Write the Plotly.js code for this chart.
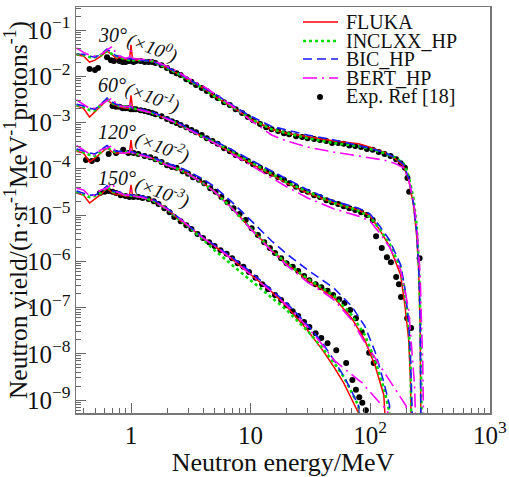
<!DOCTYPE html>
<html><head><meta charset="utf-8">
<script src="https://cdn.plot.ly/plotly-3.0.1.min.js"></script>
<style>html,body{margin:0;padding:0;background:#fff}#chart{width:509px;height:477px}</style>
</head><body><div id="chart"></div>
<script>
// ---------- 30 deg (x10^0) ----------
const E30 = [0.35,0.4,0.45,0.5,0.56,0.63,0.7,0.75,0.8,0.9,0.97,1.0,1.03,1.2,1.5,2,2.5,3,4,5,7,10,15,20,30,50,80,100,130,160,190,210,230,245,255,262,268,275,285];
const fluka30 = [2.9e-2,2.75e-2,2.04e-2,2.24e-2,2.75e-2,3.5e-2,2.9e-2,2.45e-2,2.6e-2,2.35e-2,2.24e-2,4.8e-2,2.24e-2,2.24e-2,2.14e-2,1.51e-2,1.12e-2,8.3e-3,5.6e-3,3.7e-3,2.2e-3,1.2e-3,7.2e-4,5.9e-4,4.9e-4,4.0e-4,3.5e-4,2.95e-4,2.3e-4,1.7e-4,1.15e-4,5.8e-5,1.66e-5,3.5e-6,5.9e-7,3.2e-8,1e-11,1e-11,1e-11];
const incl30 = [3.0e-2,2.9e-2,2.6e-2,2.6e-2,2.9e-2,3.5e-2,3.0e-2,2.75e-2,2.6e-2,2.35e-2,2.24e-2,2.35e-2,2.24e-2,2.24e-2,2.14e-2,1.51e-2,1.12e-2,8.3e-3,5.6e-3,3.7e-3,2.2e-3,1.2e-3,7.2e-4,5.9e-4,4.6e-4,3.6e-4,3.1e-4,2.7e-4,2.2e-4,1.78e-4,1.32e-4,6.9e-5,2.35e-5,6.0e-6,9.5e-7,7.9e-8,1e-11,1e-11,1e-11];
const bic30 = [3.0e-2,3.0e-2,2.75e-2,2.6e-2,3.0e-2,3.9e-2,3.2e-2,2.75e-2,2.75e-2,2.45e-2,2.35e-2,2.45e-2,2.35e-2,2.24e-2,2.14e-2,1.58e-2,1.17e-2,8.7e-3,5.9e-3,4.2e-3,2.4e-3,1.38e-3,8.3e-4,6.9e-4,5.4e-4,4.2e-4,3.2e-4,2.8e-4,2.3e-4,1.78e-4,1.26e-4,6.3e-5,1.82e-5,4.3e-6,7.1e-7,5.9e-8,1e-11,1e-11,1e-11];
const bert30 = [4.1e-2,3.3e-2,2.9e-2,2.75e-2,3.0e-2,3.7e-2,4.5e-2,3.0e-2,2.75e-2,2.45e-2,2.6e-2,3.7e-2,2.45e-2,2.35e-2,2.24e-2,1.66e-2,1.23e-2,9.1e-3,6.2e-3,4.2e-3,2.3e-3,1.12e-3,5.4e-4,4.0e-4,2.95e-4,2.3e-4,1.9e-4,1.7e-4,1.55e-4,1.32e-4,1.05e-4,5.8e-5,2.1e-5,6.0e-6,1.74e-6,5.0e-7,5.4e-8,7.2e-9,1e-11];
const expE30 = [0.45,0.5,0.53,0.63,0.68,0.72,0.8,0.85,0.9,0.95,1.0,1.05,1.1,1.2,1.3,1.4,1.5,1.6,1.8,2.0,2.2,2.4,2.6,2.9,3.2,3.5,3.9,4.3,4.8,5.3,6,6.7,7.5,8.5,9.5,10.5,12,13.5,15,17,19,21,24,27,30,34,38,43,48,54,60,67,75,84,94,105,118,132,148,165,180,195,205,212,259];
const expY30 = [1.45e-2,1.38e-2,1.51e-2,2.6e-2,2.24e-2,2.14e-2,2.14e-2,2.04e-2,2.04e-2,2.14e-2,2.14e-2,2.04e-2,2.14e-2,2.14e-2,2.04e-2,2.04e-2,2.04e-2,1.95e-2,1.74e-2,1.51e-2,1.29e-2,1.17e-2,1.07e-2,8.7e-3,7.6e-3,6.5e-3,5.6e-3,4.8e-3,3.9e-3,3.4e-3,2.75e-3,2.4e-3,1.95e-3,1.62e-3,1.32e-3,1.12e-3,9.3e-4,7.9e-4,7.2e-4,6.6e-4,5.9e-4,5.6e-4,5.1e-4,4.9e-4,4.6e-4,4.4e-4,4.2e-4,4.0e-4,3.6e-4,3.6e-4,3.5e-4,3.2e-4,3.1e-4,2.95e-4,2.7e-4,2.6e-4,2.3e-4,2.1e-4,1.9e-4,1.62e-4,1.32e-4,1.05e-4,6.3e-5,3.2e-5,1.17e-6];

// ---------- 60 deg (x10^-1) ----------
const E60 = [0.35,0.4,0.45,0.5,0.56,0.63,0.7,0.75,0.8,0.9,0.97,1.0,1.03,1.2,1.5,2,2.5,3,4,5,7,10,15,20,30,50,66,80,100,120,145,165,180,195,210,218,224,235,250];
const fluka60 = [2.3e-3,2.04e-3,1.32e-3,1.7e-3,2.3e-3,3.1e-3,2.5e-3,2.3e-3,2.2e-3,2.04e-3,2.04e-3,3.9e-3,2.04e-3,1.86e-3,1.62e-3,1.2e-3,9.3e-4,7.2e-4,4.9e-4,3.6e-4,2.2e-4,1.32e-4,7.2e-5,4.9e-5,3.0e-5,1.82e-5,1.48e-5,1.29e-5,9.5e-6,4.8e-6,2.14e-6,9.5e-7,5.0e-7,1.12e-7,2.0e-8,2.1e-9,1e-11,1e-11,1e-11];
const incl60 = [2.4e-3,2.2e-3,1.86e-3,1.86e-3,2.4e-3,3.2e-3,2.6e-3,2.4e-3,2.3e-3,2.2e-3,2.04e-3,2.2e-3,2.04e-3,1.86e-3,1.62e-3,1.2e-3,9.3e-4,7.2e-4,4.9e-4,3.8e-4,2.3e-4,1.41e-4,7.8e-5,5.1e-5,3.2e-5,1.82e-5,1.48e-5,1.23e-5,9.1e-6,5.0e-6,2.45e-6,1.17e-6,7.1e-7,2.2e-7,4.0e-8,4.9e-9,1e-11,1e-11,1e-11];
const bic60 = [2.5e-3,2.3e-3,2.04e-3,1.95e-3,2.5e-3,3.4e-3,2.75e-3,2.5e-3,2.4e-3,2.2e-3,2.2e-3,2.2e-3,2.04e-3,1.95e-3,1.7e-3,1.26e-3,9.8e-4,7.6e-4,5.1e-4,4.0e-4,2.6e-4,1.55e-4,8.9e-5,6.0e-5,3.5e-5,2.0e-5,1.66e-5,1.41e-5,1.05e-5,5.8e-6,2.9e-6,1.38e-6,8.3e-7,2.6e-7,4.9e-8,6.6e-9,6.0e-10,1e-11,1e-11];
const bert60 = [3.1e-3,2.5e-3,2.04e-3,2.04e-3,2.5e-3,2.95e-3,3.4e-3,2.5e-3,2.3e-3,2.2e-3,2.2e-3,2.75e-3,2.04e-3,1.86e-3,1.62e-3,1.2e-3,9.3e-4,7.2e-4,4.9e-4,3.6e-4,2.1e-4,1.2e-4,6.3e-5,4.1e-5,2.35e-5,1.35e-5,1.1e-5,9.5e-6,7.4e-6,4.1e-6,2.04e-6,1.07e-6,6.5e-7,2.4e-7,8.9e-8,2.6e-8,9.3e-9,2.1e-9,1e-11];
const expE60 = [0.7,0.75,0.8,0.85,0.9,0.95,1.0,1.05,1.1,1.2,1.3,1.4,1.5,1.6,1.8,2.0,2.2,2.4,2.6,2.9,3.2,3.5,3.9,4.3,4.8,5.3,6,6.7,7.5,8.5,9.5,10.5,12,13.5,15,17,19,21,24,27,30,34,38,43,48,54,60,67,75,84,94,105,112,125,138,149,165,174,181,204,220];
const expY60 = [2.3e-3,2.2e-3,2.2e-3,2.04e-3,2.04e-3,2.04e-3,1.95e-3,1.95e-3,1.95e-3,1.86e-3,1.78e-3,1.7e-3,1.62e-3,1.51e-3,1.38e-3,1.2e-3,1.07e-3,9.8e-4,8.9e-4,7.9e-4,6.9e-4,6.2e-4,5.4e-4,4.6e-4,4.0e-4,3.5e-4,2.8e-4,2.4e-4,2.0e-4,1.7e-4,1.48e-4,1.26e-4,1.05e-4,8.9e-5,7.8e-5,6.6e-5,5.8e-5,4.9e-5,4.1e-5,3.5e-5,3.2e-5,2.7e-5,2.45e-5,2.1e-5,1.9e-5,1.74e-5,1.55e-5,1.41e-5,1.29e-5,1.15e-5,1.0e-5,7.8e-6,3.5e-6,1.95e-6,1.23e-6,9.5e-7,4.6e-7,3.2e-7,1.7e-7,5.9e-8,3.6e-8];

// ---------- 120 deg (x10^-2) ----------
const E120 = [0.35,0.4,0.45,0.5,0.56,0.63,0.7,0.75,0.8,0.9,0.97,1.0,1.03,1.2,1.5,2,2.5,3,4,5,7,10,15,20,30,40,50,70,90,110,130,145,152,165,180,200,215];
const fluka120 = [2.4e-4,2.2e-4,1.41e-4,1.7e-4,2.2e-4,2.8e-4,2.3e-4,2.2e-4,2.2e-4,2.2e-4,2.2e-4,4.2e-4,2.2e-4,2.0e-4,1.7e-4,1.2e-4,9.8e-5,7.8e-5,4.9e-5,3.2e-5,1.41e-5,5.2e-6,1.74e-6,9.1e-7,3.9e-7,2.4e-7,1.62e-7,5.9e-8,2.0e-8,5.5e-9,1.29e-9,1e-11,1e-11,1e-11,1e-11,1e-11,1e-11];
const incl120 = [2.6e-4,2.3e-4,2.0e-4,1.9e-4,2.3e-4,2.95e-4,2.4e-4,2.3e-4,2.3e-4,2.3e-4,2.3e-4,2.3e-4,2.2e-4,2.0e-4,1.7e-4,1.2e-4,9.8e-5,7.8e-5,4.9e-5,3.2e-5,1.41e-5,5.2e-6,1.74e-6,9.1e-7,4.2e-7,2.6e-7,1.78e-7,6.9e-8,2.6e-8,7.2e-9,1.82e-9,5.5e-10,1e-11,1e-11,1e-11,1e-11,1e-11];
const bic120 = [2.7e-4,2.4e-4,2.2e-4,2.1e-4,2.6e-4,3.2e-4,2.6e-4,2.4e-4,2.4e-4,2.3e-4,2.3e-4,2.3e-4,2.3e-4,2.1e-4,1.78e-4,1.32e-4,1.1e-4,8.9e-5,6.0e-5,4.1e-5,1.9e-5,7.8e-6,2.75e-6,1.45e-6,6.5e-7,3.9e-7,2.6e-7,1.07e-7,4.0e-8,1.1e-8,2.45e-9,7.8e-10,1e-11,1e-11,1e-11,1e-11,1e-11];
const bert120 = [3.2e-4,2.6e-4,2.1e-4,2.0e-4,2.6e-4,2.8e-4,3.2e-4,2.3e-4,2.2e-4,2.2e-4,2.3e-4,2.8e-4,2.2e-4,2.0e-4,1.7e-4,1.2e-4,9.8e-5,7.8e-5,4.9e-5,3.2e-5,1.41e-5,5.0e-6,1.66e-6,8.3e-7,3.5e-7,2.2e-7,1.45e-7,5.4e-8,1.78e-8,8.1e-9,4.1e-9,2.7e-9,2.24e-9,1.66e-9,1.15e-9,7.4e-10,1e-11];
const expE120 = [0.42,0.47,0.52,0.65,0.75,0.86,0.95,1.05,1.15,1.3,1.45,1.6,1.8,2.0,2.2,2.4,2.7,3.0,3.3,3.7,4.1,4.6,5.1,5.7,6.4,7.2,8.1,9.1,10.2,11.5,13,14.5,16,18,20,22.5,25,28,31,35,39,44,49,55,61,68,76,85,98,107];
const expY120 = [1.55e-4,1.48e-4,1.62e-4,2.1e-4,2.2e-4,2.6e-4,2.2e-4,2.2e-4,2.1e-4,1.9e-4,1.78e-4,1.62e-4,1.41e-4,1.2e-4,1.1e-4,1.05e-4,8.9e-5,7.8e-5,6.6e-5,5.8e-5,4.9e-5,3.8e-5,3.2e-5,2.45e-5,1.9e-5,1.41e-5,1.05e-5,7.8e-6,5.2e-6,3.7e-6,2.6e-6,1.95e-6,1.51e-6,1.17e-6,9.1e-7,7.6e-7,6.2e-7,4.8e-7,3.9e-7,3.2e-7,2.75e-7,2.3e-7,1.86e-7,1.51e-7,1.26e-7,8.9e-8,5.9e-8,2.95e-8,1.05e-8,6.3e-9];

// ---------- 150 deg (x10^-3) ----------
const E150 = [0.35,0.4,0.45,0.5,0.56,0.63,0.7,0.75,0.8,0.9,0.97,1.0,1.03,1.2,1.5,2,2.5,3,4,5,7,10,15,20,30,40,50,60,70,80,86,100,120,140,150];
const fluka150 = [3.0e-5,2.7e-5,1.82e-5,2.24e-5,2.8e-5,3.8e-5,3.0e-5,2.8e-5,2.8e-5,2.6e-5,2.6e-5,4.5e-5,2.6e-5,2.45e-5,2.1e-5,1.35e-5,8.1e-6,5.8e-6,3.2e-6,2.14e-6,1.12e-6,5.2e-7,2.2e-7,1.07e-7,3.2e-8,1.2e-8,5.1e-9,2.35e-9,1.0e-9,5.2e-10,1e-11,1e-11,1e-11,1e-11,1e-11];
const incl150 = [3.2e-5,2.8e-5,2.45e-5,2.6e-5,3.0e-5,4.1e-5,3.2e-5,3.0e-5,3.0e-5,2.7e-5,2.6e-5,2.6e-5,2.6e-5,2.45e-5,2.1e-5,1.35e-5,8.1e-6,5.8e-6,2.9e-6,1.74e-6,8.3e-7,3.9e-7,1.7e-7,8.9e-8,3.1e-8,1.32e-8,6.3e-9,3.2e-9,1.48e-9,7.4e-10,1e-11,1e-11,1e-11,1e-11,1e-11];
const bic150 = [3.3e-5,3.0e-5,2.7e-5,2.7e-5,3.2e-5,4.3e-5,3.3e-5,3.2e-5,3.2e-5,2.8e-5,2.7e-5,2.7e-5,2.7e-5,2.6e-5,2.24e-5,1.41e-5,8.7e-6,6.0e-6,3.3e-6,2.24e-6,1.23e-6,5.9e-7,2.4e-7,1.26e-7,4.2e-8,1.7e-8,7.2e-9,3.3e-9,1.55e-9,7.4e-10,1e-11,1e-11,1e-11,1e-11,1e-11];
const bert150 = [3.8e-5,3.5e-5,2.6e-5,2.7e-5,3.5e-5,3.8e-5,4.9e-5,3.2e-5,3.0e-5,2.7e-5,2.7e-5,3.5e-5,2.6e-5,2.45e-5,2.1e-5,1.35e-5,8.7e-6,6.0e-6,3.2e-6,2.14e-6,1.12e-6,5.2e-7,2.2e-7,1.12e-7,3.8e-8,1.55e-8,7.2e-9,4.9e-9,3.5e-9,2.7e-9,2.35e-9,1.48e-9,8.7e-10,6.0e-10,1e-11];
const expE150 = [0.55,0.6,0.65,0.7,0.75,0.82,0.9,0.97,1.05,1.15,1.25,1.4,1.55,1.7,1.9,2.1,2.3,2.6,2.9,3.2,3.6,4.0,4.5,5,5.6,6.3,7,7.8,8.7,9.7,11,12.5,14,16,18,20,22.5,25,28,31,35,39,44,52,63,71,76,81,86,92];
const expY150 = [3.0e-5,3.2e-5,3.3e-5,3.2e-5,3.0e-5,2.7e-5,2.6e-5,2.45e-5,2.45e-5,2.45e-5,2.35e-5,2.24e-5,2.0e-5,1.74e-5,1.41e-5,1.15e-5,9.1e-6,7.4e-6,6.0e-6,5.0e-6,3.9e-6,3.2e-6,2.6e-6,2.14e-6,1.74e-6,1.45e-6,1.17e-6,9.1e-7,7.6e-7,5.9e-7,4.4e-7,3.2e-7,2.5e-7,1.86e-7,1.45e-7,1.12e-7,8.3e-8,6.6e-8,4.9e-8,3.8e-8,2.8e-8,2.2e-8,1.7e-8,1.2e-8,6.3e-9,2.7e-9,1.66e-9,1.15e-9,8.7e-10,6.0e-10];

const modelNames = ['FLUKA','INCLXX_HP','BIC_HP','BERT_HP'];
const expName = 'Exp. Ref [18]';
const angleLabels = ['30°','60°','120°','150°'];
const scaleLabels = ['(×10<sup>0</sup>)','(×10<sup>-1</sup>)','(×10<sup>-2</sup>)','(×10<sup>-3</sup>)'];

const angles = [
  {E:E30, m:[fluka30,incl30,bic30,bert30], xe:expE30, ye:expY30},
  {E:E60, m:[fluka60,incl60,bic60,bert60], xe:expE60, ye:expY60},
  {E:E120, m:[fluka120,incl120,bic120,bert120], xe:expE120, ye:expY120},
  {E:E150, m:[fluka150,incl150,bic150,bert150], xe:expE150, ye:expY150}
];

const FONT = '"Liberation Serif", "Times New Roman", Times, serif';
const lineStyles = [
  {color:'#ff0000', width:1.5, dash:'solid'},
  {color:'#00dd00', width:2.6, dash:'dot'},
  {color:'#1a1aff', width:1.6, dash:'9px,5px'},
  {color:'#ff00ff', width:1.6, dash:'14px,5px,2px,5px'}
];

const traces = [];
angles.forEach(a => traces.push({x:a.xe, y:a.ye, mode:'markers', type:'scatter',
  marker:{color:'#000', size:6}, showlegend:false, name:expName}));
angles.forEach(a => a.m.forEach((ys,i) => traces.push({x:a.E, y:ys, mode:'lines', type:'scatter',
  line:lineStyles[i], showlegend:false, name:modelNames[i]})));

// plot-area geometry helpers (pixels -> paper)
const L=76, R=490, T=7, B=413;
const px = p => (p-L)/(R-L);
const py = p => (B-p)/(B-T);

const annotations = [];
const angPos = [[112,35],[112,85],[117,132],[117,178]];
const sclPos = [[152,47],[153,97],[163,146],[163,191]];
angleLabels.forEach((t,i)=>{
  annotations.push({xref:'paper',yref:'paper',x:px(angPos[i][0]),y:py(angPos[i][1]),text:'<i>'+t+'</i>',
    showarrow:false,font:{family:FONT,size:20,color:'#111'},xanchor:'center',yanchor:'middle'});
  annotations.push({xref:'paper',yref:'paper',x:px(sclPos[i][0]),y:py(sclPos[i][1]),text:'<i>'+scaleLabels[i]+'</i>',
    showarrow:false,font:{family:FONT,size:19,color:'#111'},textangle:20,xanchor:'center',yanchor:'middle'});
});

// legend
const legRows = [22,41,59,78,97];
const shapes = [];
modelNames.forEach((n,i)=>{
  shapes.push({type:'line',xref:'paper',yref:'paper',x0:px(303),x1:px(338),y0:py(legRows[i]),y1:py(legRows[i]),line:lineStyles[i]});
  annotations.push({xref:'paper',yref:'paper',x:px(344),y:py(legRows[i]),text:n,showarrow:false,
    font:{family:FONT,size:20,color:'#111'},xanchor:'left',yanchor:'middle'});
});
shapes.push({type:'circle',xref:'paper',yref:'paper',x0:px(317),x1:px(323),y0:py(legRows[4]+3),y1:py(legRows[4]-3),
  fillcolor:'#000',line:{color:'#000',width:0}});
annotations.push({xref:'paper',yref:'paper',x:px(344),y:py(legRows[4]),text:expName,showarrow:false,
  font:{family:FONT,size:20,color:'#111'},xanchor:'left',yanchor:'middle'});

const layout = {
  width:509, height:477,
  margin:{l:L, r:509-R, t:T, b:477-B, pad:0},
  paper_bgcolor:'#fff', plot_bgcolor:'#fff',
  showlegend:false,
  font:{family:FONT, size:20, color:'#111'},
  xaxis:{type:'log', range:[-0.46,3.002], dtick:1, exponentformat:'power',
    showgrid:false, zeroline:false, showline:true, mirror:true, linecolor:'#777', linewidth:1.5,
    ticks:'inside', ticklen:10, tickwidth:1, tickcolor:'#666',
    minor:{ticks:'inside', ticklen:5, tickcolor:'#666', dtick:'D1', showgrid:false},
    tickfont:{family:FONT,size:20,color:'#111'},
    title:{text:'Neutron energy/MeV', font:{family:FONT,size:26,color:'#111'}, standoff:2}},
  yaxis:{type:'log', range:[-9.28,-0.5], dtick:1, exponentformat:'power',
    showgrid:false, zeroline:false, showline:true, mirror:true, linecolor:'#777', linewidth:1.5,
    ticks:'inside', ticklen:10, tickwidth:1, tickcolor:'#666',
    minor:{ticks:'inside', ticklen:5, tickcolor:'#666', dtick:'D1', showgrid:false},
    tickfont:{family:FONT,size:20,color:'#111'},
    title:{text:'Neutron yield/(n·sr<sup>-1</sup>MeV<sup>-1</sup>protons<sup>-1</sup>)', font:{family:FONT,size:25.5,color:'#111'}, standoff:3}},
  annotations:annotations,
  shapes:shapes
};

Plotly.newPlot('chart', traces, layout, {staticPlot:true, displayModeBar:false});
</script></body></html>
